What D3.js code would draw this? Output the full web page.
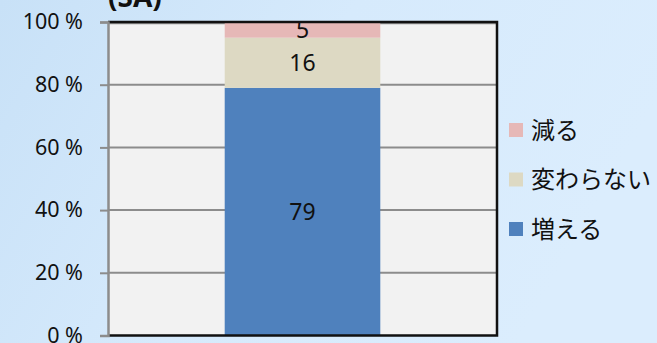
<!DOCTYPE html>
<html><head><meta charset="utf-8">
<script src="https://cdn.jsdelivr.net/npm/d3@7"></script>
<style>html,body{margin:0;padding:0;overflow:hidden;}svg{display:block;}</style>
</head><body>
<script>
const categories = ["SA"];
const seriesNames = ["増える", "変わらない", "減る"];
const seriesValues = { "増える": [79], "変わらない": [16], "減る": [5] };
const seriesColors = ["#4f81bd", "#ddd9c3", "#e6b8b7"];
const yTicks = [0, 20, 40, 60, 80, 100];

const W = 657, H = 343;
const svg = d3.select("body").append("svg").attr("width", W).attr("height", H);
const defs = svg.append("defs");
const g1 = defs.append("linearGradient").attr("id", "bg").attr("x1", "0").attr("y1", "0").attr("x2", "1").attr("y2", "0.3");
g1.append("stop").attr("offset", "0").attr("stop-color", "#c8e1f7");
g1.append("stop").attr("offset", "0.5").attr("stop-color", "#d6eafc");
g1.append("stop").attr("offset", "1").attr("stop-color", "#dbedfd");
svg.append("rect").attr("width", W).attr("height", H).attr("fill", "url(#bg)");

const L = 108, R = 497, T = 22, B = 335.5;
const x = d3.scaleBand().domain(categories).range([L, R]).paddingInner(0.6).paddingOuter(0.3);
const y = d3.scaleLinear().domain([0, 100]).range([B, T]);

svg.append("rect").attr("x", L).attr("y", T).attr("width", R - L).attr("height", B - T).attr("fill", "#f2f2f2");

// gridlines
svg.append("g").selectAll("line").data(yTicks.filter(d => d > 0 && d < 100)).join("line")
  .attr("x1", L).attr("x2", R).attr("y1", d => y(d)).attr("y2", d => y(d))
  .attr("stroke", "#8c8c8c").attr("stroke-width", 2);
svg.append("line").attr("x1", L).attr("x2", R).attr("y1", y(100) + 1.5).attr("y2", y(100) + 1.5)
  .attr("stroke", "#8c8c8c").attr("stroke-width", 1.5);

// stacked bars
const table = categories.map((c, i) => {
  const o = { cat: c };
  seriesNames.forEach(s => o[s] = seriesValues[s][i]);
  return o;
});
const stack = d3.stack().keys(seriesNames)(table);
const layers = svg.append("g").selectAll("g").data(stack).join("g").attr("fill", (d, i) => seriesColors[i]);
layers.selectAll("rect").data(d => d).join("rect")
  .attr("x", d => x(d.data.cat)).attr("width", x.bandwidth())
  .attr("y", d => y(d[1])).attr("height", d => y(d[0]) - y(d[1]));

// data labels
const lab = svg.append("g").attr("font-family", "'Noto Sans', sans-serif").attr("font-size", 23).attr("fill", "#111").attr("text-anchor", "middle");
stack.forEach((layer, i) => {
  layer.forEach(d => {
    lab.append("text").attr("x", x(d.data.cat) + x.bandwidth() / 2)
      .attr("y", (y(d[0]) + y(d[1])) / 2).attr("dy", "0.36em")
      .text(seriesValues[seriesNames[i]][0]);
  });
});

// borders
svg.append("path").attr("d", `M${L},${T}H${R}V${B}H${L}`).attr("fill", "none").attr("stroke", "#111").attr("stroke-width", 2.5);

// y axis
const yAxis = d3.axisLeft(y).tickValues(yTicks).tickSize(8).tickPadding(17).tickFormat(d => d + " %");
const ax = svg.append("g").attr("transform", `translate(${L},0)`).call(yAxis);
ax.select(".domain").attr("stroke", "#8c8c8c").attr("stroke-width", 2.5);
ax.selectAll(".tick line").attr("stroke", "#8c8c8c").attr("stroke-width", 2);
ax.selectAll(".tick text").attr("font-family", "'Noto Sans', sans-serif").attr("font-size", 21.5).attr("fill", "#111");

// title (partially cut off)
svg.append("text").attr("x", 108).attr("y", 7).attr("font-family", "'Noto Sans', sans-serif")
  .attr("font-size", 28).attr("font-weight", "bold").attr("fill", "#111").text("(" + categories[0] + ")");

// legend
const legendOrder = [2, 1, 0];
const leg = svg.append("g");
legendOrder.forEach((si, k) => {
  const cy = 130 + k * 49.5;
  leg.append("rect").attr("x", 509).attr("y", cy - 7).attr("width", 14).attr("height", 14).attr("fill", seriesColors[si]);
  leg.append("text").attr("x", 531).attr("y", cy).attr("dy", "0.36em")
    .attr("font-family", "'Noto Sans CJK JP', sans-serif").attr("font-size", 24).attr("fill", "#111")
    .text(seriesNames[si]);
});
</script>
</body></html>
